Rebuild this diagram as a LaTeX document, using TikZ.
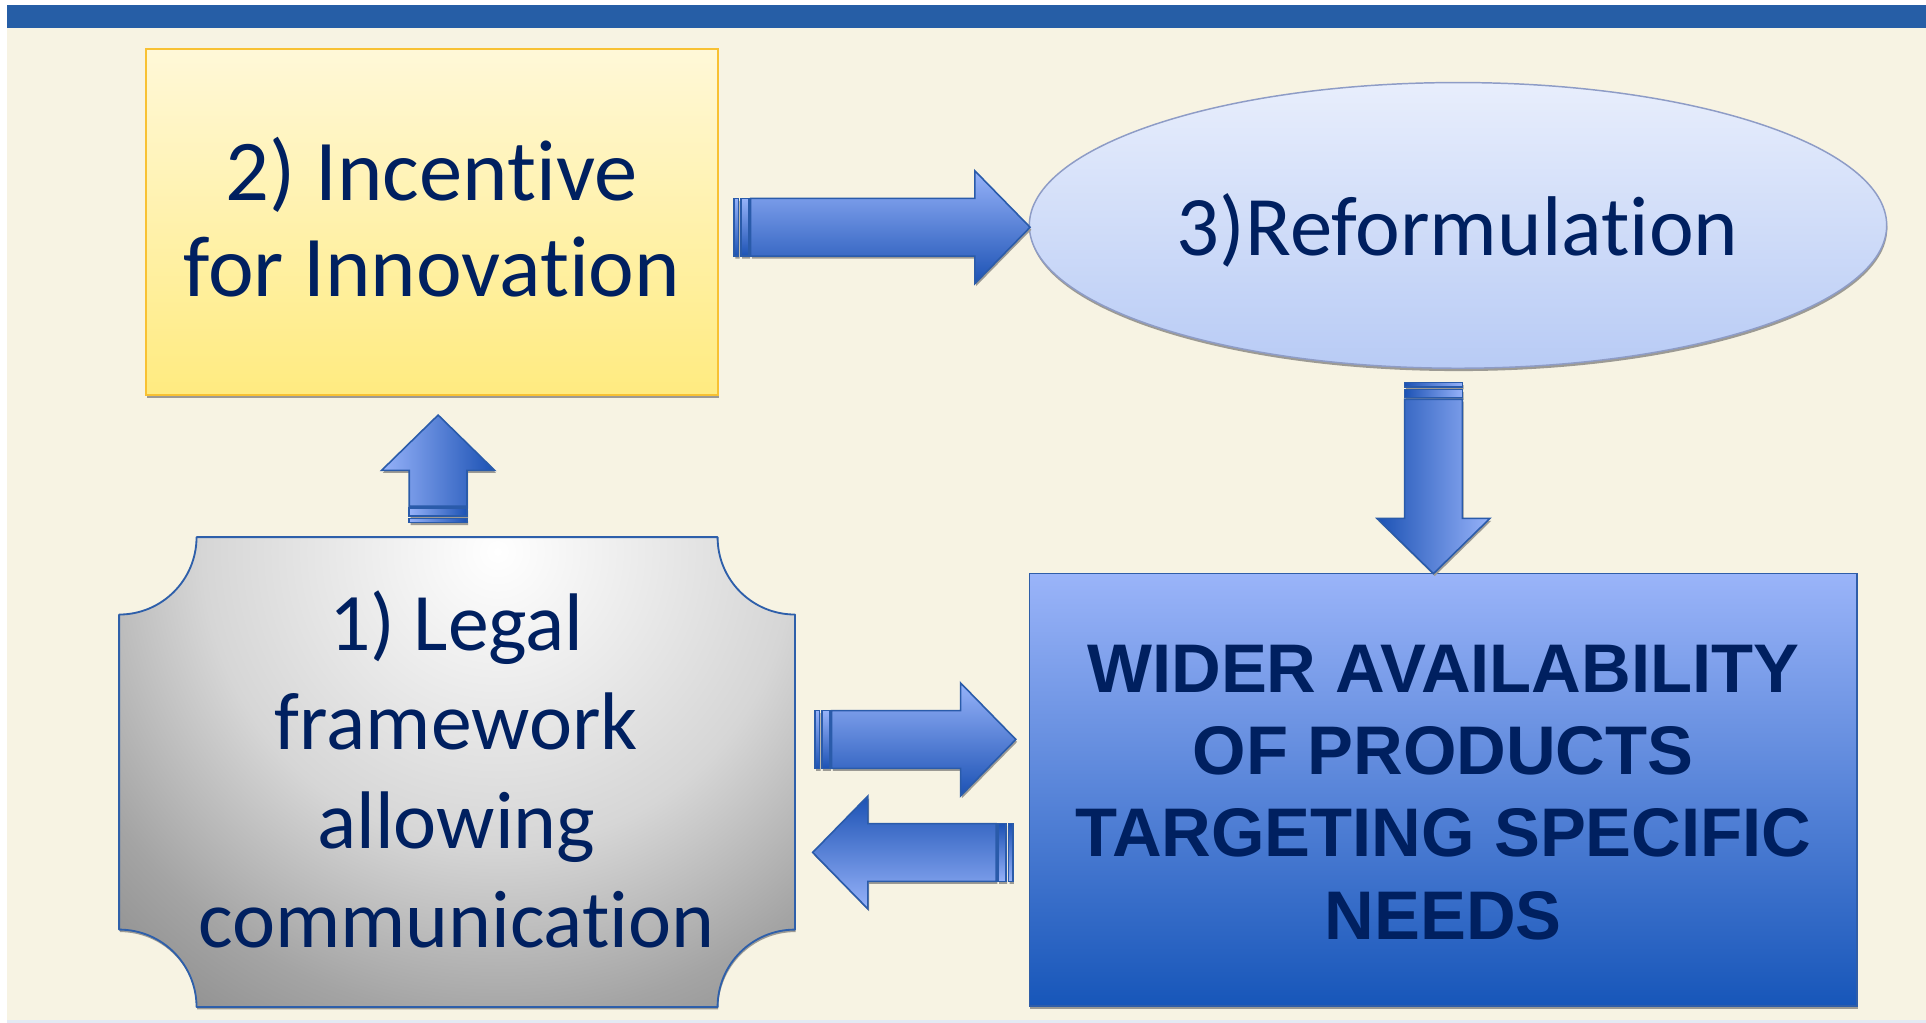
\documentclass[tikz,border=0pt]{standalone}
\usepackage{fontspec}
\setmainfont{Carlito}[Ligatures=NoCommon]
\newfontfamily\arialfont{Liberation Sans}
\usetikzlibrary{calc,shapes.geometric,shadows}
\definecolor{cream}{HTML}{F7F3E3}
\definecolor{topbar}{HTML}{265EA6}
\definecolor{bottomstrip}{HTML}{E3EAF4}
\definecolor{navy}{HTML}{002060}
\definecolor{yellowtop}{HTML}{FFF8D8}
\definecolor{yellowbot}{HTML}{FFEB80}
\definecolor{yellowline}{HTML}{F8C133}
\definecolor{elltop}{HTML}{E8EEFC}
\definecolor{ellbot}{HTML}{B8CBF5}
\definecolor{ellline}{HTML}{8E9CC6}
\definecolor{boxtop}{HTML}{9AB4F9}
\definecolor{boxmid}{HTML}{6E8EE0}
\definecolor{boxbot}{HTML}{1756B9}
\definecolor{boxline}{HTML}{2F5DA8}
\definecolor{arrlight}{HTML}{96B2F9}
\definecolor{arrdark}{HTML}{1C52B4}
\definecolor{arrline}{HTML}{2A5BAA}
\definecolor{plaqueline}{HTML}{2E5FAA}
\definecolor{pqlight}{HTML}{D6D6D6}
\definecolor{pqmid}{HTML}{A4A4A4}
\definecolor{pqdark}{HTML}{8A8A8A}
\definecolor{shadowgray}{HTML}{9C9A94}
\pgfdeclareradialshading{plaqueshade}{\pgfpoint{0bp}{0bp}}{color(0bp)=(white); color(12bp)=(pqlight); color(19bp)=(pqmid); color(24bp)=(pqdark); color(50bp)=(pqdark)}
\newcommand\sline{\rule[-0.3em]{0pt}{1.1em}}
\tikzset{
  txt/.style={text=navy, align=center, inner sep=0pt, outer sep=0pt},
  boxshadow/.style={drop shadow={shadow xshift=0.5pt, shadow yshift=-2.3pt, fill=shadowgray, opacity=1}},
  yellowbox/.style={rectangle, draw=yellowline, line width=1.5pt, top color=yellowtop, bottom color=yellowbot, inner sep=0pt, outer sep=0pt, boxshadow},
  refnode/.style={ellipse, draw=ellline, line width=1.2pt, top color=elltop, bottom color=ellbot, inner sep=0pt, outer sep=0pt, boxshadow},
  bluebox/.style={rectangle, draw=boxline, line width=1.3pt, top color=boxtop, middle color=boxmid, bottom color=boxbot, inner sep=0pt, outer sep=0pt, boxshadow},
  arrowpart/.style={draw=arrline, line width=1.3pt, top color=arrlight, bottom color=arrdark, line join=miter},
  arrowshadow/.style={fill=shadowgray},
}
\newcommand\striparrow[2]{%
  \path let \p1=($(#2)-(#1)$), \n1={veclen(\x1,\y1)}, \n2={atan2(\y1,\x1)} in \pgfextra{\xdef\sarL{\n1}\xdef\sarA{\n2}};
  \begin{scope}[shift={(#1)}, rotate=\sarA]
    \fill[arrowshadow, transform canvas={shift={(1pt,-2pt)}}]
      (0pt,-23.5pt) rectangle (3.5pt,23.5pt)
      (5.5pt,-23.5pt) rectangle (12pt,23.5pt)
      (13.5pt,-23.5pt) -- ({\sarL-45pt},-23.5pt) -- ({\sarL-45pt},-46pt) -- (\sarL,0pt) -- ({\sarL-45pt},46pt) -- ({\sarL-45pt},23.5pt) -- (13.5pt,23.5pt) -- cycle;
    \shade[arrowpart, shading angle=\sarA] (0pt,-23.5pt) rectangle (3.5pt,23.5pt);
    \shade[arrowpart, shading angle=\sarA] (5.5pt,-23.5pt) rectangle (12pt,23.5pt);
    \shade[arrowpart, shading angle=\sarA] (13.5pt,-23.5pt) -- ({\sarL-45pt},-23.5pt) -- ({\sarL-45pt},-46pt) -- (\sarL,0pt) -- ({\sarL-45pt},46pt) -- ({\sarL-45pt},23.5pt) -- (13.5pt,23.5pt) -- cycle;
  \end{scope}}
\begin{document}
\begin{tikzpicture}[x=1pt, y=-1pt]
\useasboundingbox (0,0) rectangle (1568,832.8);
% background
\fill[white] (0,0) rectangle (1568,832.8);
\fill[cream] (5.4,4) rectangle (1568,830.4);
\fill[topbar] (5.4,4) rectangle (1568,22.6);
\fill[bottomstrip] (5.4,830.4) rectangle (1568,832.8);

% 2) Incentive for Innovation
\node[yellowbox, minimum width=465.3pt, minimum height=281.4pt] (inc) at (351.85,180.9) {};
\node[txt, font=\fontsize{70.5}{77.4}\selectfont] (inc-text) at (351.5,184.7) {\sline 2) Incentive\\\sline for Innovation};

% 3) Reformulation
\node[refnode, minimum width=698pt, minimum height=232.6pt] (ref) at (1187,183.5) {};
\node[txt, font=\fontsize{69}{76}\selectfont] (ref-text) at (1186.7,190.4) {\sline 3)Reformulation};

% 1) Legal framework
\node[rectangle, minimum width=550.2pt, minimum height=382.5pt, inner sep=0pt, outer sep=0pt] (legal) at (372.1,628.55) {};
\def\plaquepath{($(legal.north west)+(63,0)$) -- ($(legal.north east)+(-63,0)$) .. controls ($(legal.north east)+(-63,34.8)$) and ($(legal.north east)+(-34.8,63)$) .. ($(legal.north east)+(0,63)$) -- ($(legal.south east)+(0,-63)$) .. controls ($(legal.south east)+(-34.8,-63)$) and ($(legal.south east)+(-63,-34.8)$) .. ($(legal.south east)+(-63,0)$) -- ($(legal.south west)+(63,0)$) .. controls ($(legal.south west)+(63,-34.8)$) and ($(legal.south west)+(34.8,-63)$) .. ($(legal.south west)+(0,-63)$) -- ($(legal.north west)+(0,63)$) .. controls ($(legal.north west)+(34.8,63)$) and ($(legal.north west)+(63,34.8)$) .. ($(legal.north west)+(63,0)$) -- cycle}
\fill[shadowgray, transform canvas={shift={(0.5pt,-2pt)}}] \plaquepath;
\begin{scope}
  \clip \plaquepath;
  \shade[shading=plaqueshade] (405,449) circle [radius=500pt];
\end{scope}
\draw[plaqueline, line width=1.5pt, line join=round] \plaquepath;
\node[txt, font=\fontsize{66.5}{80.7}\selectfont] (legal-text) at (371.5,633.9) {\sline 1) Legal\\\sline framework\\\sline allowing\\\sline communication};

% Wider availability
\node[bluebox, minimum width=674pt, minimum height=352pt] (wider) at (1175,643) {};
\node[txt, font=\arialfont\bfseries\fontsize{56}{67}\selectfont] (wider-text) at (1175,650) {\sline WIDER AVAILABILITY\\\sline OF PRODUCTS\\\sline TARGETING SPECIFIC\\\sline NEEDS};

% arrow end points
\coordinate (a1s) at ($(inc.east)+(13.1,4.1)$);
\coordinate (a1e) at ($(ref.west)+(0.6,1.5)$);
\coordinate (a2s) at ($(legal.east)+(16.3,-26.55)$);
\coordinate (a2e) at ($(wider.west)+(-11,-41)$);
\coordinate (a3s) at ($(wider.west)+(-13.5,51)$);
\coordinate (a3e) at ($(legal.east)+(14.4,65.45)$);
\coordinate (a4s) at ($(legal.north)+(-15.4,-11.8)$);
\coordinate (a4e) at ($(inc.south)+(4.85,16.3)$);
\coordinate (a5s) at ($(ref.south)+(-20,11.7)$);
\coordinate (a5e) at ($(wider.north)+(-8,0)$);

\striparrow{a1s}{a1e}
\striparrow{a2s}{a2e}
\striparrow{a3s}{a3e}
\striparrow{a4s}{a4e}
\striparrow{a5s}{a5e}
\end{tikzpicture}
\end{document}
